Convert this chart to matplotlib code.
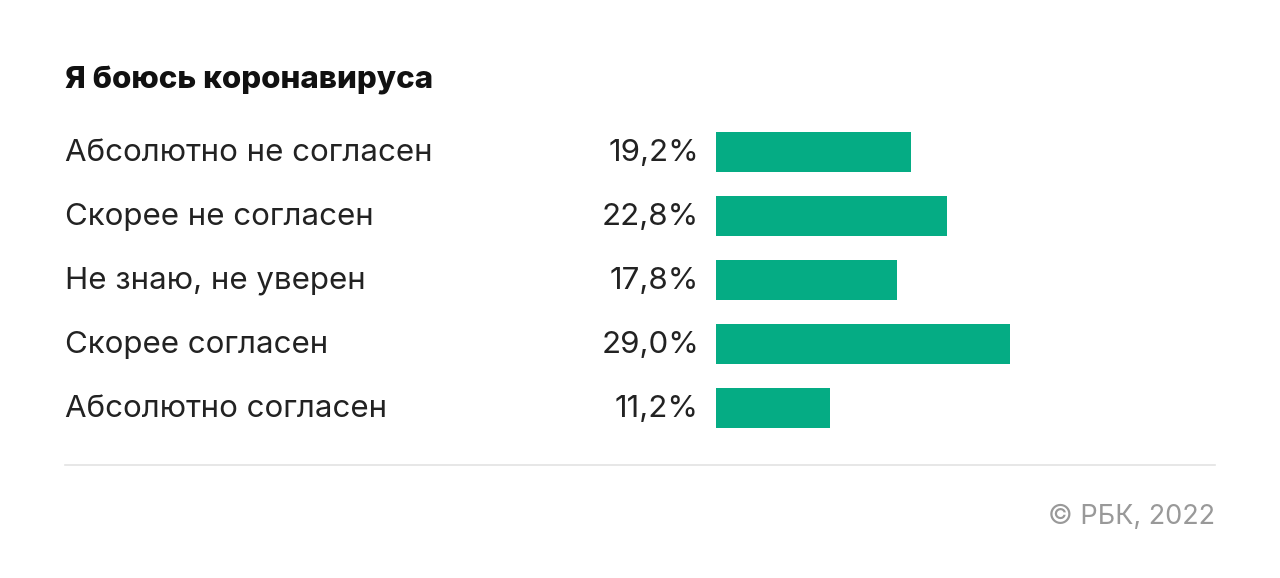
import matplotlib.pyplot as plt

plt.rcParams['font.family'] = ['Inter', 'DejaVu Sans']

title = "Я боюсь коронавируса"
categories = ["Абсолютно не согласен", "Скорее не согласен", "Не знаю, не уверен",
              "Скорее согласен", "Абсолютно согласен"]
values = [19.2, 22.8, 17.8, 29.0, 11.2]
source = "© РБК, 2022"

W, H = 1280, 578
fig = plt.figure(figsize=(W / 100, H / 100), dpi=100)
ax = fig.add_axes([0, 0, 1, 1])
ax.set_xlim(0, W)
ax.set_ylim(H, 0)
ax.axis('off')

px_per_pct = 10.15
bar_left = 716
ys = [152 + 64 * i for i in range(len(values))]

ax.barh(ys, [v * px_per_pct for v in values], left=bar_left, height=40,
        color='#05AC84')
for y, cat, v in zip(ys, categories, values):
    ax.text(65, y + 1, cat, fontsize=22.5, va='center', ha='left', color='#222222')
    ax.text(699, y + 1, f"{v:.1f}%".replace('.', ','), fontsize=22.5, va='center',
            ha='right', color='#222222')

ax.text(65, 80, title, fontsize=22.5, fontweight='heavy', va='center', ha='left',
        color='#111111')
ax.plot([65, 1215], [465, 465], color='#e3e3e3', lw=1.2)
ax.text(1215, 517, source, fontsize=19.5, va='center', ha='right', color='#999999')

fig.savefig('out.png', dpi=100)
